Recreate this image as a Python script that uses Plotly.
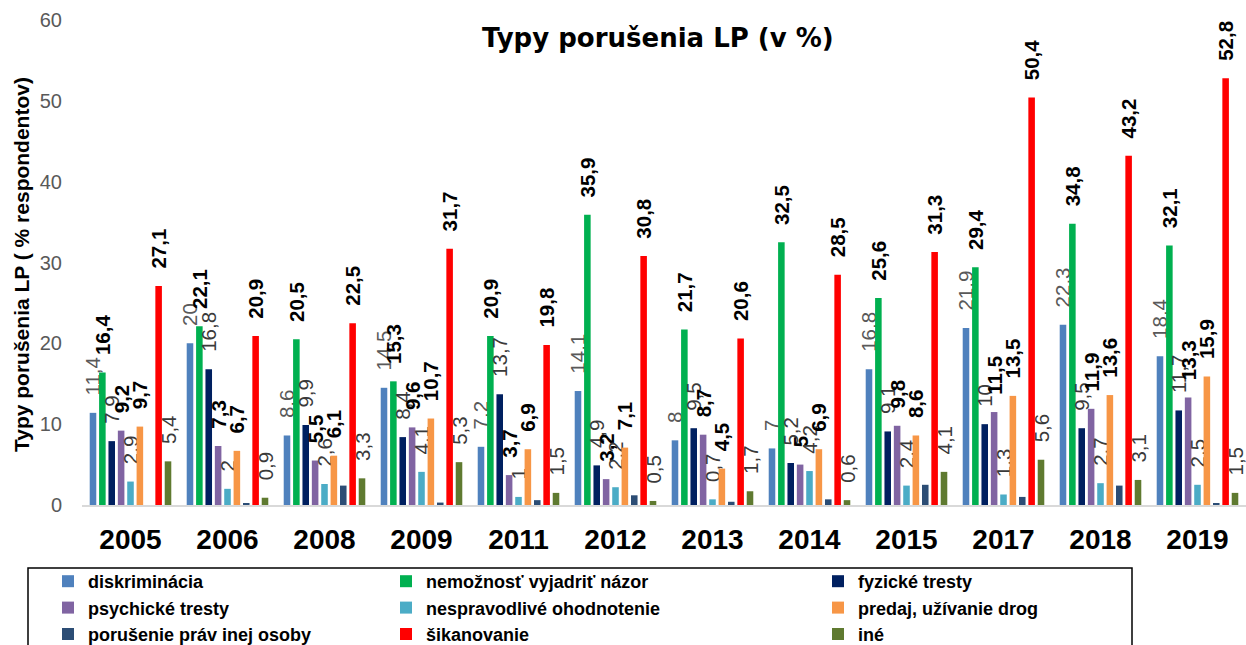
import plotly.graph_objects as go

years = ["2005", "2006", "2008", "2009", "2011", "2012", "2013", "2014", "2015", "2017", "2018", "2019"]

diskriminacia = [11.4, 20, 8.6, 14.5, 7.2, 14.1, 8, 7, 16.8, 21.9, 22.3, 18.4]
nemoznost = [16.4, 22.1, 20.5, 15.3, 20.9, 35.9, 21.7, 32.5, 25.6, 29.4, 34.8, 32.1]
fyzicke = [7.9, 16.8, 9.9, 8.4, 13.7, 4.9, 9.5, 5.2, 9.1, 10, 9.5, 11.7]
psychicke = [9.2, 7.3, 5.5, 9.6, 3.7, 3.2, 8.7, 5, 9.8, 11.5, 11.9, 13.3]
nespravodlive = [2.9, 2, 2.6, 4.1, 1, 2.2, 0.7, 4.2, 2.4, 1.3, 2.7, 2.5]
predaj = [9.7, 6.7, 6.1, 10.7, 6.9, 7.1, 4.5, 6.9, 8.6, 13.5, 13.6, 15.9]
porusenie = [0, 0.2, 2.4, 0.3, 0.6, 1.2, 0.4, 0.7, 2.5, 1.0, 2.4, 0.15]
sikanovanie = [27.1, 20.9, 22.5, 31.7, 19.8, 30.8, 20.6, 28.5, 31.3, 50.4, 43.2, 52.8]
ine = [5.4, 0.9, 3.3, 5.3, 1.5, 0.5, 1.7, 0.6, 4.1, 5.6, 3.1, 1.5]

# name, values, color, label color, label weight, show labels, legend
series = [
    ("diskriminácia", diskriminacia, "#4F81BD", "#595959", "normal", True, "legend"),
    ("nemožnosť vyjadriť názor", nemoznost, "#00B050", "#000000", "bold", True, "legend2"),
    ("fyzické tresty", fyzicke, "#002060", "#3A3A3A", "normal", True, "legend3"),
    ("psychické tresty", psychicke, "#8064A2", "#000000", "bold", True, "legend"),
    ("nespravodlivé ohodnotenie", nespravodlive, "#4BACC6", "#3A3A3A", "normal", True, "legend2"),
    ("predaj, užívanie drog", predaj, "#F79646", "#000000", "bold", True, "legend3"),
    ("porušenie práv inej osoby", porusenie, "#2C4D75", "#3A3A3A", "normal", False, "legend"),
    ("šikanovanie", sikanovanie, "#FF0000", "#000000", "bold", True, "legend2"),
    ("iné", ine, "#5F7A30", "#3A3A3A", "normal", True, "legend3"),
]

GAP = "\u2002\u2009"  # small lead-in so labels float above the bar ends as in the original


def fmt(v):
    return GAP + f"{v:g}".replace(".", ",")


fig = go.Figure()
for name, vals, color, lcol, lw, show, lg in series:
    fig.add_trace(go.Bar(
        name=name, x=years, y=vals,
        marker=dict(color=color, line=dict(width=0)),
        text=[fmt(v) for v in vals] if show else None,
        textposition="outside" if show else "none",
        textangle=-90,
        constraintext="none",
        cliponaxis=False,
        textfont=dict(family="Liberation Sans, Arial, sans-serif", size=20.5, color=lcol, weight=lw),
        legend=lg,
    ))

L, R, T, B = 82, 0, 20, 140
W, H = 1246, 645
pw = W - L - R
ph = H - T - B


def px2paper_x(px):
    return (px - L) / pw


def px2paper_y(py):
    return (H - B - py) / ph


legend_font = dict(family="Liberation Sans, Arial, sans-serif", size=18, color="#000000", weight="bold")
common_leg = dict(orientation="v", bgcolor="rgba(0,0,0,0)", borderwidth=0, font=legend_font,
                  tracegroupgap=0, xanchor="left", yanchor="top", itemwidth=30,
                  traceorder="normal")

fig.update_layout(
    width=W, height=H,
    margin=dict(l=L, r=R, t=T, b=B, autoexpand=False),
    paper_bgcolor="white", plot_bgcolor="white",
    barmode="group", bargap=0.13, bargroupgap=0.3,
    showlegend=True,
    legend=dict(x=px2paper_x(48), y=px2paper_y(563), **common_leg),
    legend2=dict(x=px2paper_x(386), y=px2paper_y(563), **common_leg),
    legend3=dict(x=px2paper_x(818), y=px2paper_y(563), **common_leg),
    xaxis=dict(
        showline=True, linecolor="#D9D9D9", linewidth=2,
        showgrid=False, ticks="",
        tickfont=dict(family="Liberation Sans, Arial, sans-serif", size=28, color="#000000", weight="bold"),
        ticklabelstandoff=8,
    ),
    yaxis=dict(
        range=[0, 60], dtick=10, showgrid=False, zeroline=False, showline=False, ticks="",
        tickfont=dict(family="Liberation Sans, Arial, sans-serif", size=20, color="#595959"),
        ticklabelstandoff=19,
    ),
    annotations=[
        dict(text="Typy porušenia LP (v %)", xref="paper", yref="paper",
             x=px2paper_x(658), y=px2paper_y(38), xanchor="center", yanchor="middle",
             showarrow=False,
             font=dict(family="DejaVu Sans, sans-serif", size=26, color="#000000", weight="bold")),
        dict(text="Typy porušenia LP ( % respondentov)", xref="paper", yref="paper",
             x=px2paper_x(21), y=px2paper_y(265), xanchor="center", yanchor="middle",
             showarrow=False, textangle=-90,
             font=dict(family="Liberation Sans, Arial, sans-serif", size=21, color="#000000", weight="bold")),
    ],
    shapes=[
        dict(type="rect", xref="paper", yref="paper",
             x0=px2paper_x(28), x1=px2paper_x(1132), y0=px2paper_y(568), y1=px2paper_y(660),
             line=dict(color="#000000", width=1.5), fillcolor="rgba(0,0,0,0)", layer="above"),
    ],
)

fig.write_html("out.html", config={"displayModeBar": False},
               post_script="document.body.style.margin='0';")
